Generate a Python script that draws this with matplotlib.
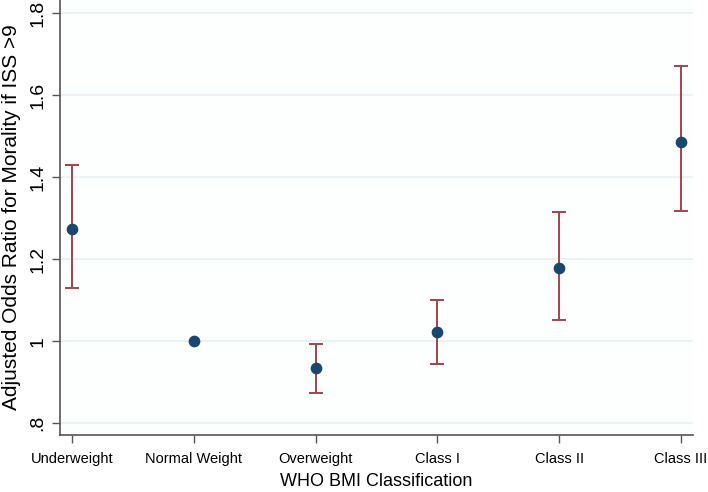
import matplotlib
matplotlib.use("Agg")
import matplotlib.pyplot as plt
import numpy as np

categories = ["Underweight", "Normal Weight", "Overweight", "Class I", "Class II", "Class III"]
odds_ratio = [1.273, 1.0, 0.934, 1.022, 1.178, 1.485]
ci_low = [1.129, 1.0, 0.873, 0.944, 1.051, 1.317]
ci_high = [1.429, 1.0, 0.993, 1.100, 1.315, 1.671]
ytick_vals = [0.8, 1.0, 1.2, 1.4, 1.6, 1.8]
ytick_labels = [".8", "1", "1.2", "1.4", "1.6", "1.8"]

plt.rcParams['font.family'] = ['Liberation Sans', 'DejaVu Sans']

fig = plt.figure(figsize=(7.08, 4.92), dpi=100)
ax = fig.add_axes([60/708, 57/492, (693-60)/708, 435/492])
ax.set_facecolor("#fdfefe")

x = np.arange(len(categories))
for i in range(len(categories)):
    if ci_high[i] != ci_low[i]:
        ax.errorbar(x[i], odds_ratio[i],
                    yerr=[[odds_ratio[i]-ci_low[i]], [ci_high[i]-odds_ratio[i]]],
                    fmt='none', ecolor="#a8424a", elinewidth=1.4, capsize=5, capthick=1.4, zorder=2)
ax.scatter(x, odds_ratio, s=55, color="#1a476f", zorder=3)

ax.set_xlim(-0.1, 5.1)
ax.set_ylim(0.771, 1.832)
ax.set_xticks(x)
ax.set_xticklabels(categories, fontsize=10.5)
ax.set_yticks(ytick_vals)
ax.set_yticklabels(ytick_labels, fontsize=14, rotation=90, va='center')
ax.grid(axis='y', color="#e7f0f4", linewidth=1.2)
ax.set_axisbelow(True)

for s in ["top", "right"]:
    ax.spines[s].set_visible(False)
for s in ["left", "bottom"]:
    ax.spines[s].set_color("#555555")
    ax.spines[s].set_linewidth(1.2)
ax.tick_params(axis='both', color="#555555", length=6, width=1)
ax.tick_params(axis='x', pad=6)
ax.tick_params(axis='y', pad=4)

ax.set_ylabel("Adjusted Odds Ratio for Morality if ISS >9", fontsize=15, labelpad=6)
ax.set_xlabel("WHO BMI Classification", fontsize=13, labelpad=5)

fig.savefig("out.png", dpi=100, facecolor="white")
